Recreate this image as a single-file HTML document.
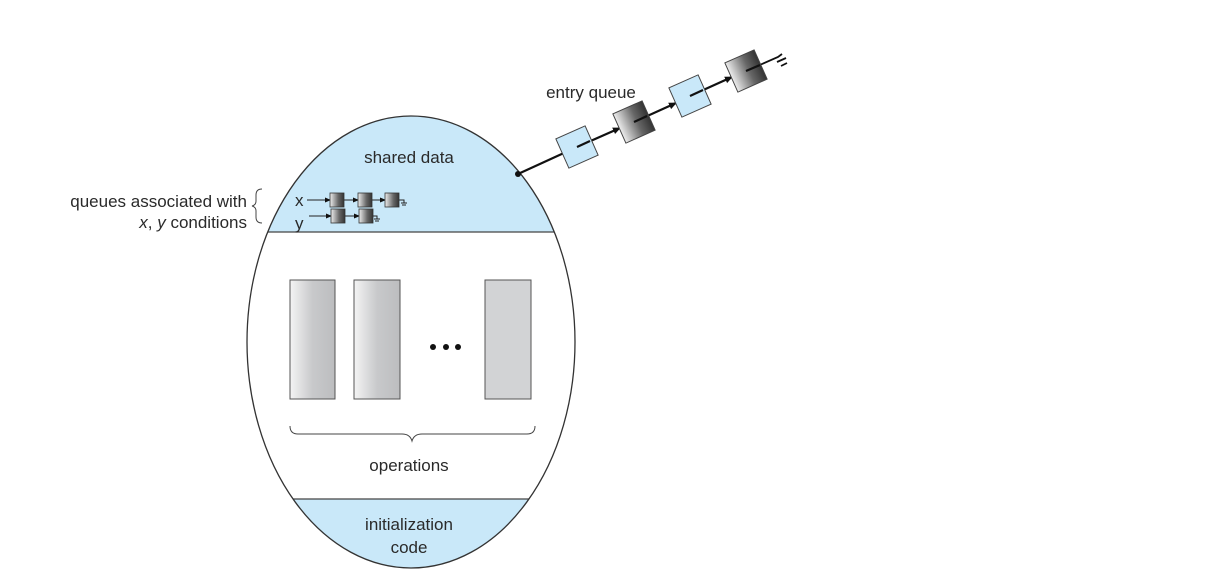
<!DOCTYPE html>
<html><head><meta charset="utf-8"><style>
html,body{margin:0;padding:0;background:#fff;width:1217px;height:586px;overflow:hidden}
text{font-family:"Liberation Sans",sans-serif;fill:#2a2a2a}
</style></head><body>
<svg width="1217" height="586" viewBox="0 0 1217 586" xmlns="http://www.w3.org/2000/svg">
<defs>
<clipPath id="ell"><ellipse cx="411" cy="342" rx="164" ry="226"/></clipPath>
<linearGradient id="g1" x1="0" x2="1" y1="0" y2="0"><stop offset="0" stop-color="#f4f4f4"/><stop offset="0.5" stop-color="#c8c9cb"/><stop offset="1" stop-color="#bcbdbf"/></linearGradient>
<linearGradient id="dk" x1="0" x2="1" y1="0" y2="0"><stop offset="0" stop-color="#eeeeee"/><stop offset="0.6" stop-color="#666"/><stop offset="1" stop-color="#333"/></linearGradient>
<marker id="ah" markerWidth="8" markerHeight="8" refX="7" refY="4" orient="auto" markerUnits="userSpaceOnUse"><path d="M0,0.5 L8,4 L0,7.5z" fill="#111"/></marker>
<marker id="as" markerWidth="6" markerHeight="6" refX="5" refY="3" orient="auto" markerUnits="userSpaceOnUse"><path d="M0,0.5 L6,3 L0,5.5z" fill="#111"/></marker>
</defs>
<g clip-path="url(#ell)">
<rect x="200" y="100" width="420" height="132" fill="#c9e8f9"/>
<rect x="200" y="499" width="420" height="80" fill="#c9e8f9"/>
</g>
<line x1="240" y1="232" x2="580" y2="232" stroke="#444" stroke-width="1.2" clip-path="url(#ell)"/>
<line x1="240" y1="499" x2="580" y2="499" stroke="#444" stroke-width="1.2" clip-path="url(#ell)"/>
<ellipse cx="411" cy="342" rx="164" ry="226" fill="none" stroke="#333" stroke-width="1.3"/>
<text x="409" y="163" font-size="17" text-anchor="middle">shared data</text>
<text x="247" y="207" font-size="17" text-anchor="end">queues associated with</text>
<text x="247" y="228" font-size="17" text-anchor="end"><tspan font-style="italic">x</tspan>, <tspan font-style="italic">y</tspan> conditions</text>
<path d="M262,189 q-6,0 -6,6 v6 q0,4 -4,5 q4,1 4,5 v6 q0,6 6,6" fill="none" stroke="#444" stroke-width="1"/>
<text x="295" y="206" font-size="17">x</text>
<text x="295" y="229" font-size="17">y</text>
<g stroke="#222" stroke-width="1" fill="none">
<line x1="307" y1="200" x2="330" y2="200" marker-end="url(#as)"/>
<line x1="341" y1="200" x2="358" y2="200" marker-end="url(#as)"/>
<line x1="369" y1="200" x2="385" y2="200" marker-end="url(#as)"/>
<path d="M396,200 h8 v3 M401,203 h6 M402,205 h4"/>
<line x1="309" y1="216" x2="331" y2="216" marker-end="url(#as)"/>
<line x1="342" y1="216" x2="359" y2="216" marker-end="url(#as)"/>
<path d="M370,216 h7 v3 M374,219 h6 M375,221 h4"/>
</g>
<g stroke="#333" stroke-width="0.8" fill="url(#dk)">
<rect x="330" y="193" width="14" height="14"/><rect x="358" y="193" width="14" height="14"/><rect x="385" y="193" width="14" height="14"/>
<rect x="331" y="209" width="14" height="14"/><rect x="359" y="209" width="14" height="14"/>
</g>
<rect x="290" y="280" width="45" height="119" fill="url(#g1)" stroke="#555" stroke-width="1"/>
<rect x="354" y="280" width="46" height="119" fill="url(#g1)" stroke="#555" stroke-width="1"/>
<rect x="485" y="280" width="46" height="119" fill="#d2d3d5" stroke="#555" stroke-width="1"/>
<circle cx="433" cy="347" r="3" fill="#111"/><circle cx="446" cy="347" r="3" fill="#111"/><circle cx="458" cy="347" r="3" fill="#111"/>
<path d="M290,426 q0,8 8,8 h104 q8,0 10,7 q2,-7 10,-7 h105 q8,0 8,-8" fill="none" stroke="#444" stroke-width="1"/>
<text x="409" y="471" font-size="17" text-anchor="middle">operations</text>
<text x="409" y="530" font-size="17" text-anchor="middle">initialization</text>
<text x="409" y="553" font-size="17" text-anchor="middle">code</text>
<text x="591" y="98" font-size="17" text-anchor="middle">entry queue</text>
<g stroke="#111" stroke-width="2.2" fill="none">
<line x1="518" y1="174" x2="577" y2="147"/>
<line x1="577" y1="147" x2="620" y2="128" marker-end="url(#ah)"/>
<line x1="634" y1="122" x2="676" y2="103" marker-end="url(#ah)"/>
<line x1="690" y1="96" x2="732" y2="77" marker-end="url(#ah)"/>
<path d="M746,71 L778,57 l4,-3 M777,62 l9,-4 M781,66 l6,-3" stroke-width="1.8"/>
</g>
<circle cx="518" cy="174" r="3" fill="#111"/>
<g stroke="#444" stroke-width="1">
<rect x="-16" y="-16" width="32" height="32" fill="#c9e8f9" transform="translate(577,147) rotate(-24)"/>
<rect x="-16" y="-16" width="32" height="32" fill="url(#dk)" transform="translate(634,122) rotate(-24)"/>
<rect x="-16" y="-16" width="32" height="32" fill="#c9e8f9" transform="translate(690,96) rotate(-24)"/>
<rect x="-16" y="-16" width="32" height="32" fill="url(#dk)" transform="translate(746,71) rotate(-24)"/>
</g>
<g stroke="#111" stroke-width="2.2" fill="none">
<line x1="577" y1="147" x2="590" y2="141"/>
<line x1="634" y1="122" x2="647" y2="116"/>
<line x1="690" y1="96" x2="703" y2="90"/>
<line x1="746" y1="71" x2="760" y2="65"/>
</g>
</svg>
</body></html>
